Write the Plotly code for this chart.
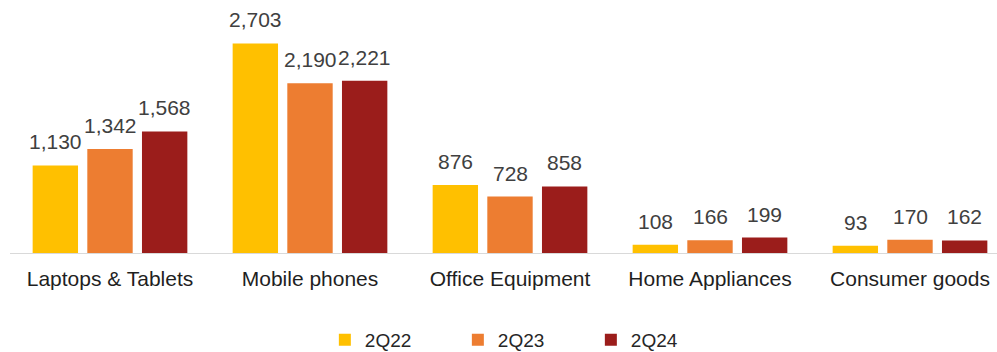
import plotly.graph_objects as go

categories = ["Laptops & Tablets", "Mobile phones", "Office Equipment", "Home Appliances", "Consumer goods"]
series_names = ["2Q22", "2Q23", "2Q24"]
values_2q22 = [1130, 2703, 876, 108, 93]
values_2q23 = [1342, 2190, 728, 166, 170]
values_2q24 = [1568, 2221, 858, 199, 162]

series_values = [values_2q22, values_2q23, values_2q24]
colors = ["#FFC000", "#ED7D31", "#9B1D1B"]

FONT = "Liberation Sans, Arial, sans-serif"
BARGAP = 0.18
BARGROUPGAP = 0.17

fig = go.Figure()
for name, vals, col in zip(series_names, series_values, colors):
    fig.add_trace(go.Bar(
        name=name, x=categories, y=vals,
        marker=dict(color=col, line=dict(width=0)),
    ))

# value labels above each bar, positioned at the bar centre of its group slot
slot = (1 - BARGAP) / len(series_names)
annotations = []
for k, vals in enumerate(series_values):
    for i, v in enumerate(vals):
        annotations.append(dict(
            x=i + (k - (len(series_names) - 1) / 2) * slot, y=v,
            xref="x", yref="y", text=f"{v:,}", showarrow=False,
            yanchor="bottom", yshift=10,
            font=dict(family=FONT, size=21, color="#404040"),
        ))

fig.update_layout(
    width=997, height=352,
    margin=dict(l=10, r=0, t=10, b=99, autoexpand=False),
    paper_bgcolor="white", plot_bgcolor="white",
    barmode="group", bargap=BARGAP, bargroupgap=BARGROUPGAP,
    font=dict(family=FONT, size=21, color="#1f1f1f"),
    showlegend=True,
    legend=dict(
        orientation="h", x=0.319, xanchor="left", y=-0.358, yanchor="middle",
        font=dict(family=FONT, size=19, color="#262626"),
        entrywidth=88, entrywidthmode="pixels",
        traceorder="normal",
    ),
    annotations=annotations,
    xaxis=dict(
        range=[-0.5, 4.435], showline=True, linecolor="#D9D9D9", linewidth=1,
        showgrid=False, ticks="", ticklabelstandoff=7, automargin=False,
        tickfont=dict(family=FONT, size=21, color="#1f1f1f"),
        fixedrange=True,
    ),
    yaxis=dict(
        range=[0, 3135], visible=False, showgrid=False, zeroline=False,
        fixedrange=True, automargin=False,
    ),
)

fig.write_html("out.html")
